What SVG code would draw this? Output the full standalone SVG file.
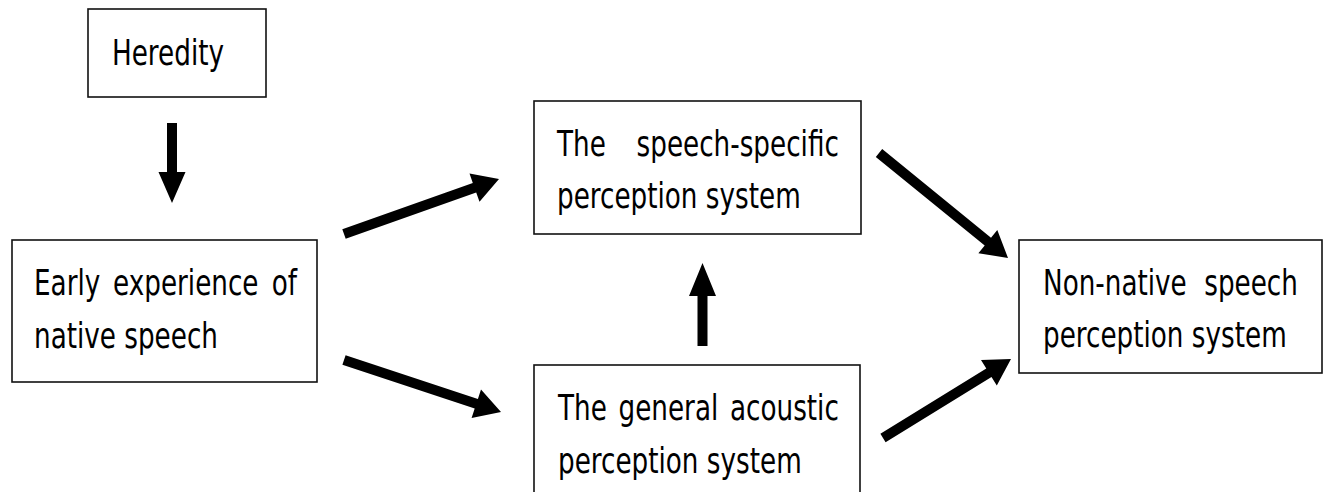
<svg xmlns="http://www.w3.org/2000/svg" width="1324" height="492" viewBox="0 0 1324 492">
<style>
.box{fill:#fff;stroke:#111;stroke-width:1.6}
.t{font-family:"DejaVu Sans",sans-serif;font-size:35px;fill:#000}
.arr{fill:#000;stroke:none}
</style>
<rect width="1324" height="492" fill="#fff"/>
<g id="heredity">
<rect class="box" x="88" y="9" width="178" height="88"/>
<text class="t" transform="translate(112,65) scale(0.75,1)">Heredity</text>
</g>
<g id="early">
<rect class="box" x="12" y="240" width="305" height="142"/>
<text class="t" transform="translate(34,295) scale(0.75,1)"><tspan x="0">Early</tspan> <tspan x="105.4">experience</tspan> <tspan x="317">of</tspan></text>
<text class="t" transform="translate(34,348) scale(0.75,1)">native speech</text>
</g>
<g id="speech-specific">
<rect class="box" x="534" y="101" width="327" height="133"/>
<text class="t" transform="translate(557,156) scale(0.75,1)"><tspan x="0">The</tspan> <tspan x="106.1">speech-specific</tspan></text>
<text class="t" transform="translate(557,208) scale(0.75,1)">perception system</text>
</g>
<g id="general">
<rect class="box" x="534" y="365" width="326" height="140"/>
<text class="t" transform="translate(558,420) scale(0.75,1)"><tspan x="0">The</tspan> <tspan x="80.7">general</tspan> <tspan x="229.3">acoustic</tspan></text>
<text class="t" transform="translate(558,473) scale(0.75,1)">perception system</text>
</g>
<g id="non-native">
<rect class="box" x="1019" y="240" width="303" height="133"/>
<text class="t" transform="translate(1043,295) scale(0.75,1)"><tspan x="0">Non-native</tspan> <tspan x="215">speech</tspan></text>
<text class="t" transform="translate(1043,347) scale(0.75,1)">perception system</text>
</g>
<g id="connectors">
<polygon class="arr" points="167,123 167,172 158.5,172 172,203 185.5,172 177,172 177,123"/>
<polygon class="arr" points="697.5,346 697.5,296 689,296 702.5,263 716,296 707.5,296 707.5,346"/>
<polygon class="arr" points="345.7,238.7 476.2,192.4 479.5,201.8 499,179 469.5,173.6 472.8,183 342.3,229.3"/>
<polygon class="arr" points="342.4,364.7 474.7,408.6 471.6,418.1 501,412 481,389.6 477.9,399.1 345.6,355.3"/>
<polygon class="arr" points="875.8,156.9 984.7,245.5 978.4,253.2 1008,258 997.3,230 991,237.7 882.2,149.1"/>
<polygon class="arr" points="885.6,442.3 991.5,377 996.8,385.5 1011,359 981,359.9 986.3,368.4 880.4,433.7"/>
</g>
</svg>
